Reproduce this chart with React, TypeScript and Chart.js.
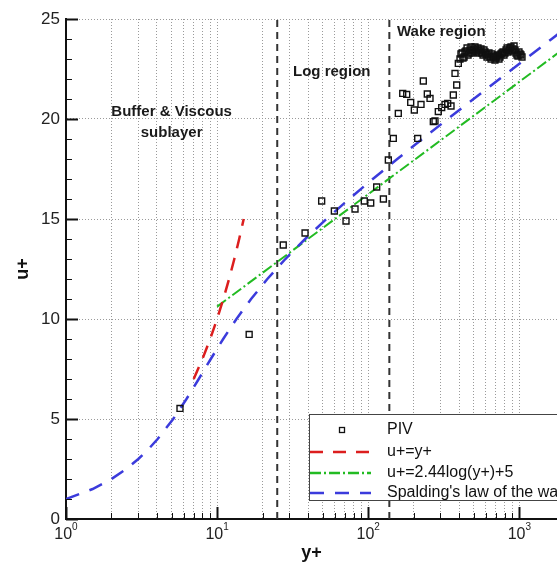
import React, { useEffect, useRef } from "react";
import { Chart, registerables } from "chart.js";

Chart.register(...registerables);

const FONT = '"Liberation Sans", Arial, Helvetica, sans-serif';

// PIV measurements of the boundary-layer profile (y+, u+)
const pivYPlus = [
  5.68, 16.3, 27.4, 38.2, 49.2, 59.7, 71.3, 81.8, 94.2, 103.9, 113.8, 126, 135.9,
  146.6, 158.2, 169.2, 179.8, 191.1, 201.9, 212.6, 223.6, 231.6, 246.1, 256.5, 269.7,
  276.7, 291, 306.5, 322.3, 335.8, 353.2, 365.8, 375.4, 385.2, 394.8,
  405, 411, 418, 424, 431, 437, 444, 451, 458, 465, 472, 479, 486, 493, 501, 509,
  517, 525, 533, 541, 550, 558, 566, 575, 584, 593, 602, 611, 621, 630, 640, 650,
  660, 670, 680, 690, 701, 712, 723, 734, 745, 756, 768, 780, 792, 804, 817, 830,
  842, 855, 868, 881, 895, 909, 923, 937, 951, 965, 980, 995, 1011, 1026, 1042,
];
const pivUPlus = [
  5.53, 9.23, 13.7, 14.3, 15.9, 15.4, 14.9, 15.5, 15.9, 15.8, 16.6, 16.0, 17.95,
  19.03, 20.28, 21.28, 21.23, 20.83, 20.45, 19.03, 20.73, 21.9, 21.25, 21.03, 19.87,
  19.9, 20.37, 20.57, 20.73, 20.78, 20.65, 21.2, 22.28, 21.7, 22.78,
  23.0, 23.25, 23.3, 23.05, 23.1, 23.35, 23.4, 23.55, 23.2, 23.3, 23.45, 23.6, 23.3,
  23.4, 23.5, 23.6, 23.35, 23.45, 23.55, 23.3, 23.4, 23.5, 23.3, 23.2, 23.45, 23.35,
  23.25, 23.1, 23.2, 23.3, 23.1, 23.0, 23.25, 23.1, 23.15, 22.95, 23.05, 23.15, 23.2,
  23.0, 23.1, 23.25, 23.3, 23.35, 23.2, 23.3, 23.45, 23.55, 23.35, 23.45, 23.55,
  23.6, 23.4, 23.5, 23.65, 23.45, 23.3, 23.2, 23.15, 23.35, 23.25, 23.2, 23.1,
];

// Viscous sublayer: u+ = y+
const linearYPlus = [7, 8, 9, 10, 11, 12, 13, 14, 15];
const linearUPlus = [7, 8, 9, 10, 11, 12, 13, 14, 15];

// Log law: u+ = 2.44 ln(y+) + 5
const logLawYPlus = [10, 2000];
const logLawUPlus = [10.62, 23.55];

// Spalding's law of the wall (kappa = 0.4, B = 5.5), tabulated
const spaldingYPlus = [
  1.0, 1.5, 2.0, 2.51, 3.01, 3.52, 4.04, 5.12, 6.27, 7.56, 9.08, 10.97, 13.43, 16.78,
  21.5, 28.3, 38.25, 52.94, 74.76, 107.25, 155.74, 228.14, 336.3, 497.85, 739.13,
  1099.4, 1637.4, 2440.4,
];
const spaldingUPlus = [
  1, 1.5, 2, 2.5, 3, 3.5, 4, 5, 6, 7, 8, 9, 10, 11, 12, 13, 14, 15, 16, 17, 18, 19,
  20, 21, 22, 23, 24, 25,
];

// Region boundaries (y+)
const regionBoundaries = [25, 138];

// Axis ticks
const xDecades = [1, 10, 100, 1000];
const xDecadeExponents = ["0", "1", "2", "3"];
const xMultipliers = [1, 2, 3, 4, 5, 6, 7, 8, 9];
const xMin = 1;
const xMax = 1776;
const yTicks = [0, 5, 10, 15, 20, 25];
const yMinorTicks = [
  0, 1, 2, 3, 4, 5, 6, 7, 8, 9, 10, 11, 12, 13, 14, 15, 16, 17, 18, 19, 20, 21, 22,
  23, 24, 25,
];

// Region annotations (positioned in data coordinates)
const regionLabels = [
  { text: "Buffer & Viscous", x: 5.0, y: 20.35, align: "center" },
  { text: "sublayer", x: 5.0, y: 19.3, align: "center" },
  { text: "Log region", x: 31.8, y: 22.35, align: "left" },
  { text: "Wake region", x: 155, y: 24.35, align: "left" },
];

const RED = "#dc1e1e";
const GREEN = "#22bb22";
const BLUE = "#3b3bdc";
const RED_DASH = [13, 10];
const BLUE_DASH = [14, 11];
const GREEN_DASH = [11, 3, 2, 3];

const legendEntries = [
  { label: "PIV", kind: "marker" },
  { label: "u+=y+", kind: "line", color: RED, dash: RED_DASH },
  { label: "u+=2.44log(y+)+5", kind: "line", color: GREEN, dash: GREEN_DASH },
  { label: "Spalding's law of the wall", kind: "line", color: BLUE, dash: BLUE_DASH },
];

const pairs = (xs: number[], ys: number[]) => xs.map((x, i) => ({ x, y: ys[i] }));

const decorPlugin = {
  id: "decor",
  afterDatasetsDraw(chart: any) {
    const { ctx, scales } = chart;
    const xs = scales.x;
    const ys = scales.y;
    ctx.save();
    ctx.fillStyle = "#1a1a1a";
    ctx.font = `bold 15px ${FONT}`;
    ctx.textBaseline = "middle";
    for (const r of regionLabels) {
      ctx.textAlign = r.align;
      ctx.fillText(r.text, xs.getPixelForValue(r.x), ys.getPixelForValue(r.y));
    }
    ctx.restore();
  },
  afterDraw(chart: any) {
    const { ctx, scales, chartArea } = chart;
    const xs = scales.x;
    const ys = scales.y;
    ctx.save();
    ctx.strokeStyle = "#111";

    // y tick marks (inward)
    for (const v of yMinorTicks) {
      const major = v % 5 === 0;
      const py = Math.round(ys.getPixelForValue(v)) + 0.5;
      ctx.lineWidth = major ? 2 : 1;
      ctx.beginPath();
      ctx.moveTo(chartArea.left, py);
      ctx.lineTo(chartArea.left + (major ? 12 : 6), py);
      ctx.stroke();
    }

    // x tick marks (inward)
    for (const d of xDecades) {
      for (const m of xMultipliers) {
        const v = d * m;
        if (v < xMin || v > xMax) continue;
        const major = m === 1;
        const px = Math.round(xs.getPixelForValue(v)) + 0.5;
        ctx.lineWidth = major ? 2 : 1;
        ctx.beginPath();
        ctx.moveTo(px, chartArea.bottom);
        ctx.lineTo(px, chartArea.bottom - (major ? 12 : 6));
        ctx.stroke();
      }
    }

    // x tick labels: 10 with superscript exponent
    ctx.fillStyle = "#222";
    ctx.textBaseline = "middle";
    ctx.textAlign = "left";
    xDecades.forEach((d, i) => {
      const px = xs.getPixelForValue(d);
      ctx.font = `16px ${FONT}`;
      const wBase = ctx.measureText("10").width;
      ctx.font = `10px ${FONT}`;
      const wExp = ctx.measureText(xDecadeExponents[i]).width;
      const x0 = px - (wBase + wExp) / 2;
      ctx.font = `16px ${FONT}`;
      ctx.fillText("10", x0, chartArea.bottom + 16);
      ctx.font = `10px ${FONT}`;
      ctx.fillText(xDecadeExponents[i], x0 + wBase, chartArea.bottom + 8);
    });

    // legend box
    const lx = 309.5;
    const ly = 414.5;
    const lw = 280;
    const lh = 86;
    ctx.fillStyle = "#fff";
    ctx.fillRect(lx, ly, lw, lh);
    ctx.strokeStyle = "#444";
    ctx.lineWidth = 1;
    ctx.strokeRect(lx, ly, lw, lh);

    const rowY = [430, 452, 473, 493];
    legendEntries.forEach((e, i) => {
      const y = rowY[i];
      if (e.kind === "marker") {
        ctx.strokeStyle = "#111";
        ctx.lineWidth = 1.3;
        ctx.setLineDash([]);
        ctx.strokeRect(339.5, y - 2.5, 5, 5);
      } else {
        ctx.strokeStyle = e.color;
        ctx.lineWidth = 2.5;
        ctx.setLineDash(e.dash);
        ctx.beginPath();
        ctx.moveTo(310, y);
        ctx.lineTo(371, y);
        ctx.stroke();
        ctx.setLineDash([]);
      }
      ctx.fillStyle = "#111";
      ctx.font = `16px ${FONT}`;
      ctx.textAlign = "left";
      ctx.textBaseline = "middle";
      ctx.fillText(e.label, 387, y);
    });
    ctx.restore();
  },
};

export default function App() {
  const canvasRef = useRef<HTMLCanvasElement | null>(null);

  useEffect(() => {
    if (!canvasRef.current) return;
    const lineStyle = {
      showLine: true,
      pointRadius: 0,
      pointHoverRadius: 0,
      fill: false,
      tension: 0,
    };
    const chart = new Chart(canvasRef.current, {
      type: "scatter",
      data: {
        datasets: [
          {
            label: "PIV",
            data: pairs(pivYPlus, pivUPlus),
            pointStyle: "rect",
            pointRadius: 4.2,
            pointHoverRadius: 4.2,
            borderColor: "#111",
            backgroundColor: "rgba(0,0,0,0)",
            borderWidth: 1.4,
            showLine: false,
          },
          {
            label: "Spalding's law of the wall",
            data: pairs(spaldingYPlus, spaldingUPlus),
            borderColor: BLUE,
            borderWidth: 2.5,
            borderDash: BLUE_DASH,
            ...lineStyle,
          },
          {
            label: "u+=y+",
            data: pairs(linearYPlus, linearUPlus),
            borderColor: RED,
            borderWidth: 2.5,
            borderDash: RED_DASH,
            ...lineStyle,
          },
          {
            label: "u+=2.44log(y+)+5",
            data: pairs(logLawYPlus, logLawUPlus),
            borderColor: GREEN,
            borderWidth: 2,
            borderDash: GREEN_DASH,
            ...lineStyle,
          },
          ...regionBoundaries.map((b) => ({
            label: `boundary ${b}`,
            data: [
              { x: b, y: yTicks[0] },
              { x: b, y: yTicks[yTicks.length - 1] },
            ],
            borderColor: "#333",
            borderWidth: 2,
            borderDash: [7, 5],
            ...lineStyle,
          })),
        ],
      },
      options: {
        responsive: false,
        animation: false,
        events: [],
        layout: { padding: { top: 19, right: 0, left: 0, bottom: 0 }, autoPadding: false },
        plugins: { legend: { display: false }, tooltip: { enabled: false } },
        scales: {
          x: {
            type: "logarithmic",
            min: xMin,
            max: xMax,
            afterBuildTicks: (axis: any) => {
              const ticks: any[] = [];
              for (const d of xDecades)
                for (const m of xMultipliers) {
                  const v = d * m;
                  if (v >= xMin && v <= xMax) ticks.push({ value: v, major: m === 1 });
                }
              axis.ticks = ticks;
            },
            afterFit: (axis: any) => {
              axis.height = 46;
            },
            ticks: { display: false },
            grid: { color: "#9a9a9a", lineWidth: 1, drawTicks: false },
            border: { display: true, color: "#111", width: 2, dash: [1, 2] },
            title: {
              display: true,
              text: "y+",
              color: "#111",
              font: { family: FONT, size: 18, weight: "bold" },
              padding: { top: 0, bottom: 1 },
            },
          },
          y: {
            type: "linear",
            min: 0,
            max: 25,
            afterBuildTicks: (axis: any) => {
              axis.ticks = yTicks.map((v) => ({ value: v }));
            },
            afterFit: (axis: any) => {
              axis.width = 66;
            },
            ticks: {
              color: "#222",
              padding: 6,
              font: { family: FONT, size: 17 },
              callback: (v: any) => String(v),
            },
            grid: { color: "#9a9a9a", lineWidth: 1, drawTicks: false },
            border: { display: true, color: "#111", width: 2, dash: [1, 2] },
            title: {
              display: true,
              text: "u+",
              color: "#111",
              font: { family: FONT, size: 18, weight: "bold" },
              padding: { top: 12, bottom: 0 },
            },
          },
        },
      },
      plugins: [decorPlugin],
    } as any);
    return () => chart.destroy();
  }, []);

  return (
    <div style={{ position: "fixed", left: 0, top: 0, width: 557, height: 565, background: "#fff" }}>
      <canvas ref={canvasRef} width={557} height={565} style={{ display: "block" }} />
    </div>
  );
}
